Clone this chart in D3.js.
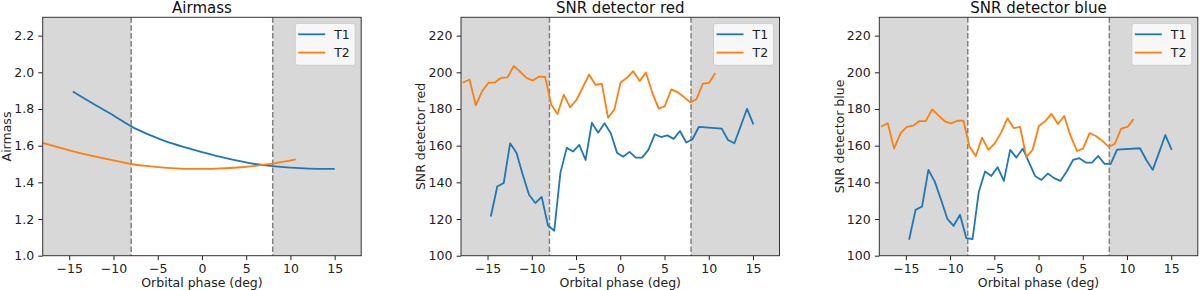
<!DOCTYPE html>
<html>
<head>
<meta charset="utf-8">
<script src="https://cdn.jsdelivr.net/npm/d3@7"></script>
<style>
  body { margin: 0; background: #fff; }
  svg { font-family: "DejaVu Sans", sans-serif; }
</style>
</head>
<body>
<div id="chart"></div>
<script>
// phases (deg) of the two targets
var phaseT1 = [-14.63, -13.9, -13.17, -12.45, -11.73, -11.02, -10.31, -9.6, -8.88, -8.17,
  -7.46, -6.76, -6.05, -5.34, -4.63, -3.92, -3.21, -2.5, -1.78, -1.07,
  -0.37, 0.33, 1.04, 1.76, 2.47, 3.18, 3.9, 4.61, 5.33, 6.04,
  6.75, 7.46, 8.16, 8.88, 11.47, 12.18, 12.9, 13.62, 14.33, 15.05];
var phaseT2 = [-17.81, -17.04, -16.33, -15.59, -14.89, -14.18, -13.46, -12.75, -12.03, -11.32,
  -10.6, -9.88, -9.17, -8.49, -7.81, -7.1, -6.38, -5.67, -4.95, -4.23,
  -3.52, -2.81, -2.09, -1.37, -0.66, 0.04, 0.76, 1.46, 2.19, 2.9,
  3.62, 4.35, 5.03, 5.77, 6.48, 7.2, 7.91, 8.61, 9.33, 10.05, 10.74];

var snrRedT1 = [121.4, 137.7, 139.6, 161.3, 156.2, 144.1, 133.2, 128.7, 132.1, 116.5,
  113.6, 145.3, 158.8, 156.8, 160.4, 152.2, 172.5, 167.1, 172.2, 166.8,
  156.2, 154.0, 156.6, 153.5, 153.5, 157.7, 166.2, 164.7, 165.6, 163.7,
  168.0, 161.7, 163.5, 170.2, 169.3, 163.1, 161.3, 170.7, 180.1, 171.6];
var snrRedT2 = [194.3, 196.1, 182.0, 189.9, 194.3, 194.5, 197.0, 197.2, 203.5, 200.3,
  197.0, 195.5, 197.7, 197.5, 182.5, 177.3, 187.8, 180.9, 184.9, 191.8,
  198.8, 193.2, 193.8, 175.2, 179.8, 194.5, 197.0, 200.6, 195.2, 199.9,
  188.9, 180.2, 181.5, 190.7, 189.2, 186.5, 183.6, 185.3, 193.8, 194.3, 199.6];

var snrBlueT1 = [108.7, 125.0, 126.8, 146.8, 140.4, 130.5, 120.1, 116.3, 122.3, 109.6,
  109.1, 134.7, 145.9, 143.5, 148.3, 140.8, 157.7, 153.5, 158.4, 150.8,
  143.3, 141.3, 144.8, 142.3, 140.8, 145.9, 152.2, 153.2, 150.8, 150.8,
  154.4, 150.1, 150.1, 157.8, 158.6, 152.2, 146.8, 156.2, 165.8, 157.7];
var snrBlueT2 = [170.3, 172.2, 158.4, 166.8, 170.3, 170.9, 173.4, 173.4, 179.8, 176.5,
  173.3, 172.2, 173.6, 173.6, 159.5, 154.4, 164.4, 157.7, 161.3, 167.1,
  174.9, 169.6, 170.2, 153.7, 157.9, 170.7, 173.4, 177.3, 171.8, 176.2,
  165.3, 157.1, 158.4, 166.8, 165.3, 162.6, 159.5, 160.9, 169.3, 170.2, 174.5];

// airmass, read at fewer phases (smooth curves)
var airPhaseT1 = [-14.6, -12, -10, -8, -6, -4, -2, 0, 2, 4, 6, 8, 10, 12, 15];
var airmassT1 = [1.895, 1.82, 1.765, 1.705, 1.66, 1.622, 1.592, 1.565, 1.54, 1.518, 1.5, 1.488, 1.48, 1.475, 1.473];
var airPhaseT2 = [-18, -15, -12, -10, -8, -6, -4, -2, 0, 2, 4, 6, 8, 10.6];
var airmassT2 = [1.615, 1.575, 1.54, 1.52, 1.5, 1.488, 1.479, 1.474, 1.473, 1.476, 1.481, 1.49, 1.502, 1.525];

var xTicks = [-15, -10, -5, 0, 5, 10, 15];
var airTicks = [1.0, 1.2, 1.4, 1.6, 1.8, 2.0, 2.2];
var snrTicks = [100, 120, 140, 160, 180, 200, 220];
var seriesNames = ["T1", "T2"];
var colors = ["#1f77b4", "#ff7f0e"];
var boundary = 8;

var svgWidth = 1200;
var svgHeight = 290;
var axTop = 17.3;
var axHeight = 238.4;
var axWidth = 318.5;

var svg = d3.select("#chart")
  .append("svg")
  .attr("width", svgWidth)
  .attr("height", svgHeight);

var panels = [
  {left: 42.7, title: "Airmass", ylabel: "Airmass", yDomain: [1.0, 2.3], yTicks: airTicks, fmt: d3.format(".1f"),
    labelOff: 36, curve: d3.curveMonotoneX,
    series: [[airPhaseT1, airmassT1], [airPhaseT2, airmassT2]]},
  {left: 461, title: "SNR detector red", ylabel: "SNR detector red", yDomain: [100, 230], yTicks: snrTicks, fmt: d3.format("d"),
    labelOff: 40, curve: d3.curveLinear,
    series: [[phaseT1, snrRedT1], [phaseT2, snrRedT2]]},
  {left: 879.3, title: "SNR detector blue", ylabel: "SNR detector blue", yDomain: [100, 230], yTicks: snrTicks, fmt: d3.format("d"),
    labelOff: 40, curve: d3.curveLinear,
    series: [[phaseT1, snrBlueT1], [phaseT2, snrBlueT2]]}
];

panels.forEach(function(p) {
  var g = svg.append("g")
    .attr("transform", `translate(${p.left}, ${axTop})`);

  var x = d3.scaleLinear().domain([-18, 18]).range([0, axWidth]);
  var y = d3.scaleLinear().domain(p.yDomain).range([axHeight, 0]);

  // shaded out-of-window regions
  g.append("rect")
    .attr("x", x(-18)).attr("y", 0)
    .attr("width", x(-boundary) - x(-18)).attr("height", axHeight)
    .attr("fill", "#d8d8d8");
  g.append("rect")
    .attr("x", x(boundary)).attr("y", 0)
    .attr("width", x(18) - x(boundary)).attr("height", axHeight)
    .attr("fill", "#d8d8d8");

  [-boundary, boundary].forEach(function(b) {
    g.append("line")
      .attr("x1", x(b)).attr("x2", x(b))
      .attr("y1", 0).attr("y2", axHeight)
      .attr("stroke", "#808080")
      .attr("stroke-width", 1.5)
      .attr("stroke-dasharray", "5.5,2.4");
  });

  p.series.forEach(function(s, i) {
    var pts = s[0].map(function(ph, j) { return [ph, s[1][j]]; });
    var line = d3.line()
      .x(d => x(d[0]))
      .y(d => y(d[1]))
      .curve(p.curve);
    g.append("path")
      .datum(pts)
      .attr("d", line)
      .attr("fill", "none")
      .attr("stroke", colors[i])
      .attr("stroke-width", 1.8)
      .attr("stroke-linejoin", "round");
  });

  var bottomAxis = d3.axisBottom(x).tickValues(xTicks).tickSize(4.4).tickPadding(4.2);
  var leftAxis = d3.axisLeft(y).tickValues(p.yTicks).tickFormat(p.fmt).tickSize(4.4).tickPadding(4.2);

  var xa = g.append("g")
    .attr("transform", `translate(0, ${axHeight})`)
    .call(bottomAxis);
  var ya = g.append("g").call(leftAxis);
  [xa, ya].forEach(function(a) {
    a.select(".domain").remove();
    a.selectAll("line").attr("stroke", "#222").attr("stroke-width", 1);
    a.selectAll("text").attr("fill", "#222").attr("font-size", "12.5px")
      .attr("font-family", "DejaVu Sans");
  });

  // frame
  g.append("rect")
    .attr("x", 0).attr("y", 0)
    .attr("width", axWidth).attr("height", axHeight)
    .attr("fill", "none")
    .attr("stroke", "#333")
    .attr("stroke-width", 1);

  g.append("text")
    .attr("x", axWidth / 2)
    .attr("y", -4.4)
    .attr("text-anchor", "middle")
    .attr("font-size", "15px")
    .attr("fill", "#111")
    .text(p.title);

  g.append("text")
    .attr("x", axWidth / 2)
    .attr("y", axHeight + 31)
    .attr("text-anchor", "middle")
    .attr("font-size", "12.5px")
    .attr("fill", "#222")
    .text("Orbital phase (deg)");

  g.append("text")
    .attr("transform", `translate(${-p.labelOff}, ${axHeight / 2}) rotate(-90)`)
    .attr("dy", "0.35em")
    .attr("text-anchor", "middle")
    .attr("font-size", "12.5px")
    .attr("fill", "#222")
    .text(p.ylabel);

  // legend
  var lg = g.append("g")
    .attr("transform", `translate(${axWidth - 66}, 6)`);
  lg.append("rect")
    .attr("width", 60).attr("height", 42)
    .attr("rx", 2.5)
    .attr("fill", "white").attr("fill-opacity", 0.8)
    .attr("stroke", "#cccccc");
  seriesNames.forEach(function(name, i) {
    var yy = 11 + i * 18.3;
    lg.append("line")
      .attr("x1", 3).attr("x2", 30)
      .attr("y1", yy).attr("y2", yy)
      .attr("stroke", colors[i]).attr("stroke-width", 1.8);
    lg.append("text")
      .attr("x", 39).attr("y", yy)
      .attr("dy", "0.35em")
      .attr("font-size", "12.5px")
      .attr("fill", "#222")
      .text(name);
  });
});
</script>
</body>
</html>
